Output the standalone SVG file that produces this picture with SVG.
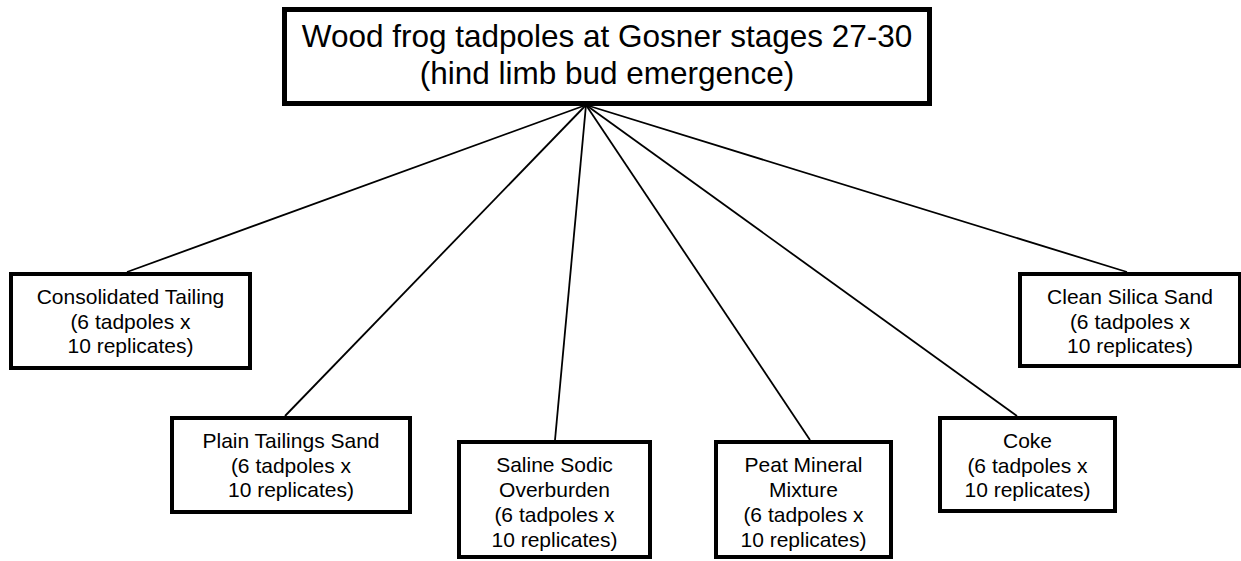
<svg xmlns="http://www.w3.org/2000/svg" width="1241" height="561" viewBox="0 0 1241 561">
<style>
.box{fill:#fff;stroke:#000;stroke-width:4}
.title{fill:#fff;stroke:#000;stroke-width:5}
.edge{stroke:#000;stroke-width:1.8;fill:none}
text{font-family:"Liberation Sans",Arial,sans-serif;fill:#000;text-anchor:middle}
.t{font-size:31.5px}
.n{font-size:21px}
</style>
<rect width="1241" height="561" fill="#fff"/>
<g id="connectors">
<line class="edge" x1="586" y1="105" x2="127" y2="272"/>
<line class="edge" x1="586" y1="105" x2="285" y2="416"/>
<line class="edge" x1="586" y1="105" x2="555" y2="440"/>
<line class="edge" x1="586" y1="105" x2="810" y2="440"/>
<line class="edge" x1="586" y1="105" x2="1017" y2="416"/>
<line class="edge" x1="586" y1="105" x2="1127" y2="272"/>
</g>
<g id="root">
<rect class="title" x="284.5" y="9.5" width="645" height="94"/>
<text class="t" x="607" y="47">Wood frog tadpoles at Gosner stages 27-30</text>
<text class="t" x="607" y="84">(hind limb bud emergence)</text>
</g>
<g id="consolidated">
<rect class="box" x="11" y="274" width="239" height="94"/>
<text class="n" x="130.5" y="304">Consolidated Tailing</text>
<text class="n" x="130.5" y="329">(6 tadpoles x</text>
<text class="n" x="130.5" y="353">10 replicates)</text>
</g>
<g id="plain">
<rect class="box" x="172" y="418" width="238" height="94"/>
<text class="n" x="291" y="448">Plain Tailings Sand</text>
<text class="n" x="291" y="473">(6 tadpoles x</text>
<text class="n" x="291" y="497">10 replicates)</text>
</g>
<g id="saline">
<rect class="box" x="459" y="442" width="191" height="115"/>
<text class="n" x="554.5" y="472">Saline Sodic</text>
<text class="n" x="554.5" y="497">Overburden</text>
<text class="n" x="554.5" y="522">(6 tadpoles x</text>
<text class="n" x="554.5" y="547">10 replicates)</text>
</g>
<g id="peat">
<rect class="box" x="716" y="442" width="175" height="115"/>
<text class="n" x="803.5" y="472">Peat Mineral</text>
<text class="n" x="803.5" y="497">Mixture</text>
<text class="n" x="803.5" y="522">(6 tadpoles x</text>
<text class="n" x="803.5" y="547">10 replicates)</text>
</g>
<g id="coke">
<rect class="box" x="940" y="418" width="175" height="93"/>
<text class="n" x="1027.5" y="448">Coke</text>
<text class="n" x="1027.5" y="473">(6 tadpoles x</text>
<text class="n" x="1027.5" y="497">10 replicates)</text>
</g>
<g id="silica">
<rect class="box" x="1020" y="274" width="220" height="92"/>
<text class="n" x="1130" y="304">Clean Silica Sand</text>
<text class="n" x="1130" y="329">(6 tadpoles x</text>
<text class="n" x="1130" y="353">10 replicates)</text>
</g>
</svg>
